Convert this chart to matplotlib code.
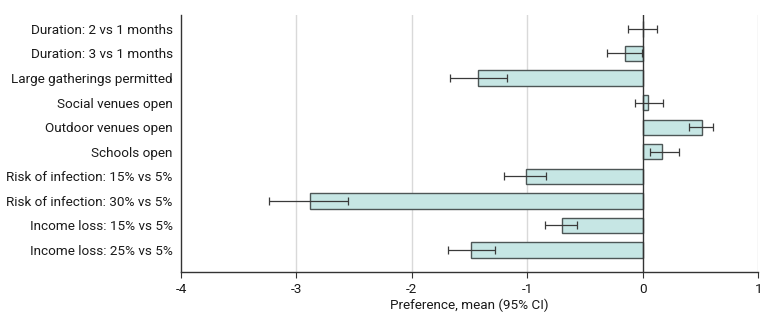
import matplotlib.pyplot as plt
import numpy as np

plt.rcParams['font.family'] = ['Roboto', 'DejaVu Sans']

labels = ['Duration: 2 vs 1 months', 'Duration: 3 vs 1 months',
          'Large gatherings permitted', 'Social venues open',
          'Outdoor venues open', 'Schools open',
          'Risk of infection: 15% vs 5%', 'Risk of infection: 30% vs 5%',
          'Income loss: 15% vs 5%', 'Income loss: 25% vs 5%']
means = [0.0, -0.15, -1.43, 0.05, 0.51, 0.17, -1.01, -2.88, -0.70, -1.49]
ci_low = [-0.13, -0.31, -1.67, -0.07, 0.40, 0.06, -1.20, -3.24, -0.85, -1.69]
ci_high = [0.12, -0.01, -1.18, 0.18, 0.61, 0.31, -0.84, -2.55, -0.57, -1.28]

means = np.array(means)
err = np.array([means - np.array(ci_low), np.array(ci_high) - means])
y = np.arange(len(labels))

fig = plt.figure(figsize=(7.8, 3.24), dpi=100)
ax = fig.add_axes([0.232, 0.160, 0.740, 0.794])

for xv in [-3, -2, -1, 1]:
    ax.axvline(xv, color='#d9d9d9', lw=1, zorder=0)

ax.barh(y, means, height=0.62, color='#c6e6e4', edgecolor='#4d5656', lw=1, zorder=2)
ax.errorbar(means, y, xerr=err, fmt='none', ecolor='#3a3a3a', elinewidth=0.9,
            capsize=3, capthick=0.9, zorder=3)
ax.axvline(0, color='#333333', lw=1, zorder=4)

ax.set_xlim(-4, 1)
ax.set_ylim(9.9, -0.57)
ax.set_yticks(y)
ax.set_yticklabels(labels, fontsize=9.7, color='#1a1a1a')
ax.tick_params(axis='y', length=0, pad=6)
ax.set_xticks([-4, -3, -2, -1, 0, 1])
ax.set_xticklabels(['-4', '-3', '-2', '-1', '0', '1'])
ax.tick_params(axis='x', labelsize=9.7, length=4, color='#333333', labelcolor='#1a1a1a')
ax.set_xlabel('Preference, mean (95% CI)', fontsize=9.7, color='#1a1a1a', labelpad=2)

for s in ['top', 'right']:
    ax.spines[s].set_visible(False)
for s in ['left', 'bottom']:
    ax.spines[s].set_color('#333333')
    ax.spines[s].set_linewidth(1)

fig.savefig('out.png', dpi=100)
